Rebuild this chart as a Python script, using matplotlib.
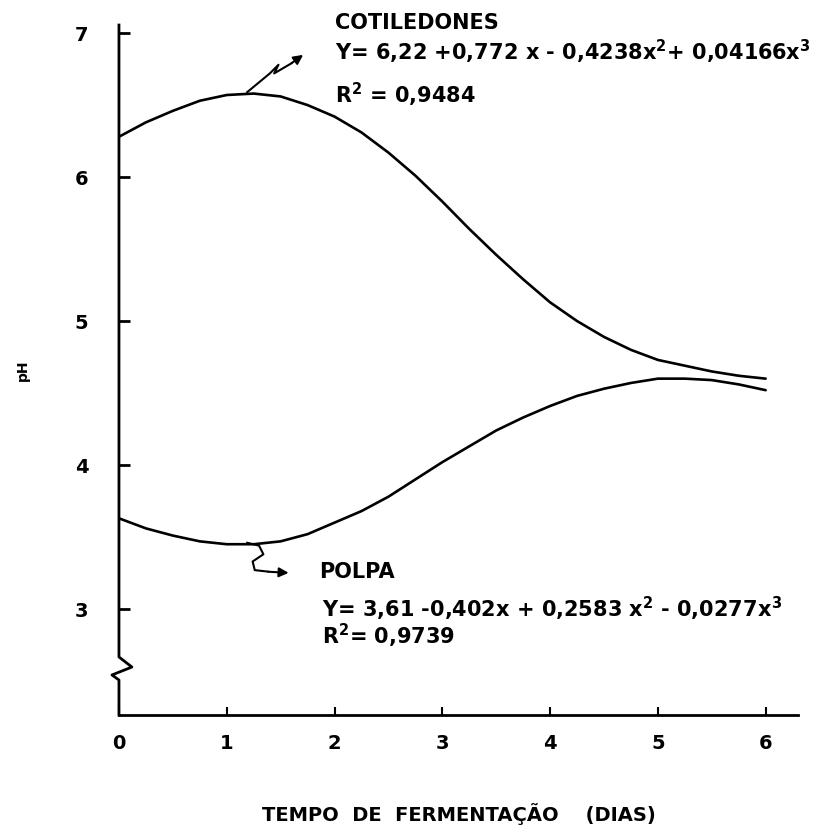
import matplotlib
matplotlib.use("Agg")
import matplotlib.pyplot as plt

# Data (pH vs fermentation days)
dias = [0, 0.25, 0.5, 0.75, 1, 1.25, 1.5, 1.75, 2, 2.25, 2.5, 2.75, 3,
        3.25, 3.5, 3.75, 4, 4.25, 4.5, 4.75, 5, 5.25, 5.5, 5.75, 6]
ph_cotiledones = [6.28, 6.38, 6.46, 6.53, 6.57, 6.58, 6.56, 6.50, 6.42, 6.31,
                  6.17, 6.01, 5.83, 5.64, 5.46, 5.29, 5.13, 5.00, 4.89, 4.80,
                  4.73, 4.69, 4.65, 4.62, 4.60]
ph_polpa = [3.63, 3.56, 3.51, 3.47, 3.45, 3.45, 3.47, 3.52, 3.60, 3.68,
            3.78, 3.90, 4.02, 4.13, 4.24, 4.33, 4.41, 4.48, 4.53, 4.57,
            4.60, 4.60, 4.59, 4.56, 4.52]
x_ticks = [0, 1, 2, 3, 4, 5, 6]
y_ticks = [3, 4, 5, 6, 7]

plt.rcParams['font.family'] = ['DejaVu Sans']
plt.rcParams['font.weight'] = 'bold'
plt.rcParams['axes.labelweight'] = 'bold'
plt.rcParams['mathtext.fontset'] = 'custom'
plt.rcParams['mathtext.rm'] = 'DejaVu Sans:bold'
plt.rcParams['mathtext.default'] = 'rm'

fig = plt.figure(figsize=(8.29, 8.26), dpi=100)
ax = fig.add_axes([0.1435, 0.1344, 0.8191, 0.8353])
ax.set_xlim(0, 6.3)
ax.set_ylim(2.264, 7.056)

ax.plot(dias, ph_cotiledones, color='black', lw=1.9, solid_capstyle='round')
ax.plot(dias, ph_polpa, color='black', lw=1.9, solid_capstyle='round')

# axes: only left/bottom, with a break on the y axis
for s in ['top', 'right', 'left']:
    ax.spines[s].set_visible(False)
ax.spines['bottom'].set_linewidth(2.0)
ax.plot([0, 0, -0.065, 0.12, 0, 0], [2.264, 2.507, 2.542, 2.597, 2.667, 7.056],
        color='black', lw=2.0, clip_on=False)

ax.set_xticks(x_ticks)
ax.set_yticks(y_ticks)
ax.tick_params(axis='y', direction='in', length=8, width=2, pad=22, labelsize=14)
ax.tick_params(axis='x', direction='in', length=6, width=1.5, pad=14, labelsize=14)

ax.set_ylabel('pH', fontsize=10, labelpad=32)
ax.set_xlabel('TEMPO  DE  FERMENTAÇÃO    (DIAS)', fontsize=14, labelpad=36)

# labels for the curves
tsize = 15
ax.text(2.0, 7.07, 'COTILEDONES', fontsize=tsize, va='center', ha='left', clip_on=False)
ax.text(2.0, 6.87, 'Y= 6,22 +0,772 x - 0,4238x$^{2}$+ 0,04166x$^{3}$',
        fontsize=tsize, va='center', ha='left')
ax.text(2.0, 6.57, 'R$^{2}$ = 0,9484', fontsize=tsize, va='center', ha='left')

ax.text(1.86, 3.26, 'POLPA', fontsize=tsize, va='center', ha='left')
ax.text(1.88, 3.00, 'Y= 3,61 -0,402x + 0,2583 x$^{2}$ - 0,0277x$^{3}$',
        fontsize=tsize, va='center', ha='left')
ax.text(1.88, 2.81, 'R$^{2}$= 0,9739', fontsize=tsize, va='center', ha='left')

# squiggly pointers
ax.plot([1.19, 1.40, 1.48, 1.44, 1.60], [6.59, 6.72, 6.78, 6.72, 6.79], color='black', lw=1.5)
ax.annotate('', xy=(1.73, 6.86), xytext=(1.58, 6.78),
            arrowprops=dict(arrowstyle='-|>', color='black', lw=1.5, mutation_scale=14))
ax.plot([1.19, 1.30, 1.34, 1.24, 1.26, 1.38], [3.46, 3.44, 3.38, 3.33, 3.27, 3.26],
        color='black', lw=1.5)
ax.annotate('', xy=(1.60, 3.25), xytext=(1.36, 3.26),
            arrowprops=dict(arrowstyle='-|>', color='black', lw=1.5, mutation_scale=14))

fig.savefig('out.png', dpi=100)
